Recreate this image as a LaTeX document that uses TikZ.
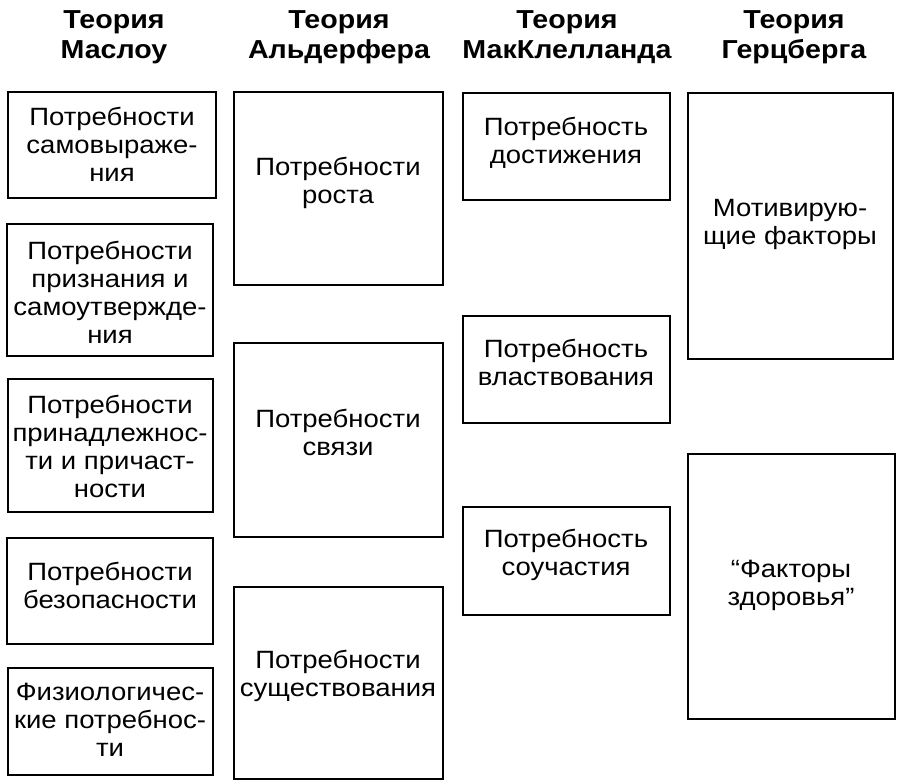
\documentclass[tikz,border=0pt]{standalone}
\usepackage{fontspec}
\setmainfont[FakeStretch=1.1]{Liberation Sans}
\begin{document}
\begin{tikzpicture}[x=1pt,y=-1pt,
  box/.style={draw, line width=2.2pt, inner sep=0pt, outer sep=0pt, anchor=north west},
  txt/.style={align=center, inner sep=0pt, font=\fontsize{25}{28}\selectfont},
  head/.style={align=center, inner sep=0pt, font=\fontsize{26}{30}\selectfont\bfseries}]
\useasboundingbox[fill=white] (0,0) rectangle (904,783);
% headings
\node[head] (h1) at (114,37) {Теория\\Маслоу};
\node[head] (h2) at (339,37) {Теория\\Альдерфера};
\node[head] (h3) at (567,37) {Теория\\МакКлелланда};
\node[head] (h4) at (794,37) {Теория\\Герцберга};
% Maslow
\node[box, minimum width=208, minimum height=106] (m1) at (8,92) {};
\node[txt] (m1t) at (112,144) {Потребности\\самовыраже-\\ния};
\node[box, minimum width=206, minimum height=132] (m2) at (7,224) {};
\node[txt] (m2t) at (110,292) {Потребности\\признания и\\самоутвержде-\\ния};
\node[box, minimum width=205, minimum height=133] (m3) at (8,379) {};
\node[txt] (m3t) at (110,446) {Потребности\\принадлежнос-\\ти и причаст-\\ности};
\node[box, minimum width=206, minimum height=106] (m4) at (7,538) {};
\node[txt] (m4t) at (110,585) {Потребности\\безопасности};
\node[box, minimum width=205, minimum height=107] (m5) at (8,668) {};
\node[txt] (m5t) at (110,720) {Физиологичес-\\кие потребнос-\\ти};
% Alderfer
\node[box, minimum width=209, minimum height=193] (a1) at (234,92) {};
\node[txt] (a1t) at (338,183) {Потребности\\роста};
\node[box, minimum width=209, minimum height=194] (a2) at (234,343) {};
\node[txt] (a2t) at (338,432) {Потребности\\связи};
\node[box, minimum width=209, minimum height=192] (a3) at (234,587) {};
\node[txt] (a3t) at (338,676) {Потребности\\существования};
% McClelland
\node[box, minimum width=207, minimum height=107] (c1) at (463,93) {};
\node[txt] (c1t) at (566,143) {Потребность\\достижения};
\node[box, minimum width=207, minimum height=107] (c2) at (463,316) {};
\node[txt] (c2t) at (566,362) {Потребность\\властвования};
\node[box, minimum width=207, minimum height=108] (c3) at (463,507) {};
\node[txt] (c3t) at (566,555) {Потребность\\соучастия};
% Herzberg
\node[box, minimum width=205, minimum height=266] (z1) at (688,93) {};
\node[txt] (z1t) at (790,224) {Мотивирую-\\щие факторы};
\node[box, minimum width=207, minimum height=265] (z2) at (688,454) {};
\node[txt] (z2t) at (791,585) {“Факторы\\здоровья”};
\end{tikzpicture}
\end{document}
